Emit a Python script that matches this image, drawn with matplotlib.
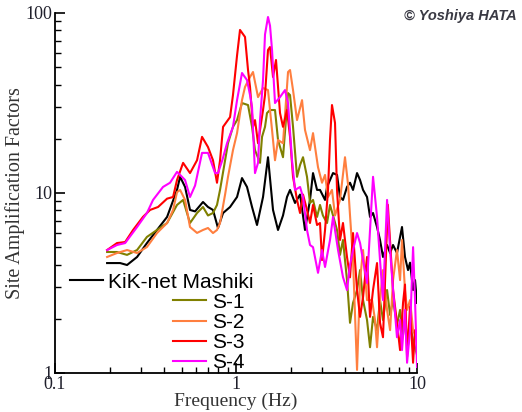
import matplotlib
matplotlib.use("Agg")
import matplotlib.pyplot as plt
from matplotlib.ticker import LogLocator, FixedLocator, FixedFormatter, NullFormatter

# KiK-net Mashiki
freq_kik = [0.194, 0.229, 0.25, 0.284, 0.322, 0.366, 0.416, 0.472, 0.491, 0.523,
            0.557, 0.594, 0.657, 0.70, 0.746, 0.795, 0.848, 0.927, 1.013, 1.079,
            1.15, 1.226, 1.306, 1.41, 1.502, 1.601, 1.706, 1.818, 1.913, 1.988,
            2.118, 2.258, 2.405, 2.563, 2.663, 2.803, 2.911, 3.103, 3.183, 3.305,
            3.435, 3.614, 3.754, 3.899, 4.103, 4.264, 4.43, 4.662, 4.845, 5.032,
            5.294, 5.5, 5.714, 6.012, 6.245, 6.486, 6.83, 7.10, 7.37, 7.75,
            8.06, 8.26, 8.58, 8.92, 9.15, 9.51, 9.75, 10.0]
amp_kik = [4.08, 4.08, 3.98, 4.41, 5.27, 6.23, 7.36, 10.4, 12.3, 10.8,
           8.05, 7.9, 8.91, 8.36, 8.05, 6.39, 7.74, 8.36, 9.5, 12.1,
           10.8, 8.36, 6.64, 9.5, 15.8, 8.05, 6.23, 7.5, 9.5, 10.4,
           8.8, 9.8, 6.23, 9.15, 12.9, 10.4, 10.4, 9.15, 10.8, 11.8,
           12.9, 12.6, 9.5, 9.15, 10.8, 11.4, 10.4, 12.9, 11.8, 10.4,
           9.5, 7.36, 7.74, 6.47, 5.48, 4.41, 5.14, 4.64, 5.14, 4.64,
           5.70, 6.47, 4.41, 3.73, 4.1, 2.89, 3.28, 2.45]

# S-1
freq_s1 = [0.194, 0.22, 0.25, 0.284, 0.322, 0.366, 0.416, 0.472, 0.51, 0.557,
           0.609, 0.657, 0.70, 0.746, 0.785, 0.816, 0.903, 0.962, 1.013, 1.079,
           1.165, 1.226, 1.273, 1.357, 1.392, 1.446, 1.483, 1.541, 1.642, 1.706,
           1.818, 1.938, 1.988, 2.065, 2.173, 2.258, 2.345, 2.467, 2.563, 2.663,
           2.803, 2.911, 3.02, 3.183, 3.305, 3.435, 3.614, 3.754, 3.899, 4.103,
           4.264, 4.43, 4.662, 4.845, 5.032, 5.294, 5.5, 5.714, 6.012, 6.245,
           6.486, 6.83, 7.10, 7.37, 7.75, 8.06, 8.37, 8.58, 8.92, 9.15,
           9.51, 10.0]
amp_s1 = [4.70, 4.70, 4.53, 4.82, 5.70, 6.23, 6.81, 8.58, 9.15, 6.81,
          7.74, 8.36, 7.5, 7.74, 8.58, 10.4, 18.9, 23.3, 25.4, 31.6,
          30.8, 23.3, 17.3, 14.7, 20.5, 23.3, 27.8, 28.9, 28.9, 19.7,
          15.8, 35.9, 35.0, 23.3, 12.3, 14.3, 15.8, 12.3, 8.8, 9.15,
          7.36, 8.58, 7.5, 6.81, 8.58, 7.5, 6.23, 4.53, 5.48, 3.28,
          1.90, 2.45, 2.89, 3.73, 2.54, 1.97, 1.39, 2.05, 1.73, 2.54,
          1.97, 2.89, 2.1, 2.54, 1.85, 2.24, 1.63, 1.97, 1.43, 1.85,
          1.52, 1.26]

# S-2
freq_s2 = [0.194, 0.22, 0.25, 0.284, 0.322, 0.366, 0.416, 0.449, 0.472, 0.491,
           0.523, 0.557, 0.609, 0.657, 0.70, 0.746, 0.785, 0.816, 0.87, 0.903,
           0.962, 1.013, 1.079, 1.121, 1.195, 1.241, 1.323, 1.41, 1.502, 1.581,
           1.642, 1.706, 1.818, 1.938, 1.988, 2.065, 2.173, 2.316, 2.405, 2.563,
           2.663, 2.838, 2.986, 3.103, 3.223, 3.39, 3.523, 3.754, 4.0, 4.16,
           4.264, 4.43, 4.662, 4.845, 5.032, 5.294, 5.642, 5.861, 6.012, 6.245,
           6.486, 6.83, 7.10, 7.37, 7.75, 8.06, 8.26, 8.58, 8.81, 9.15,
           9.51, 10.0]
amp_s2 = [4.41, 4.64, 4.82, 4.64, 5.01, 5.99, 6.81, 8.05, 10.1, 10.4,
          9.15, 6.47, 6.0, 6.23, 6.39, 5.99, 6.23, 6.81, 9.8, 12.3,
          17.3, 21.5, 32.8, 38.8, 44.1, 47.0, 34.1, 38.3, 37.3, 22.4,
          15.2, 19.7, 18.9, 47.0, 48.2, 37.3, 25.4, 32.8, 22.4, 17.3,
          21.5, 13.9, 11.4, 12.6, 9.5, 10.4, 7.5, 9.15, 15.8, 11.1,
          7.5, 4.24, 1.04, 3.28, 4.82, 2.54, 2.54, 1.97, 1.39, 2.54,
          3.73, 2.24, 1.73, 3.28, 4.82, 3.28, 5.48, 2.89, 2.24, 2.54,
          1.73, 1.52]

# S-3
freq_s3 = [0.194, 0.22, 0.244, 0.27, 0.306, 0.335, 0.371, 0.416, 0.449, 0.472,
           0.51, 0.557, 0.609, 0.649, 0.70, 0.746, 0.785, 0.816, 0.848, 0.927,
           0.962, 1.013, 1.052, 1.121, 1.165, 1.195, 1.241, 1.273, 1.323, 1.41,
           1.446, 1.502, 1.541, 1.601, 1.663, 1.75, 1.818, 1.913, 1.988, 2.065,
           2.173, 2.258, 2.345, 2.467, 2.563, 2.663, 2.803, 2.911, 2.986, 3.103,
           3.223, 3.305, 3.39, 3.523, 3.614, 3.754, 3.899, 4.103, 4.264, 4.43,
           4.662, 4.845, 5.032, 5.294, 5.5, 5.714, 6.012, 6.245, 6.486, 6.9,
           7.37, 7.75, 8.06, 8.37, 8.58, 8.81, 9.15, 9.51, 9.75, 10.0]
amp_s3 = [4.82, 5.27, 5.34, 6.23, 7.36, 8.05, 8.36, 9.3, 9.5, 11.8,
          14.7, 12.9, 15.2, 20.5, 18.0, 15.2, 11.4, 15.2, 23.3, 26.4,
          35.0, 58.0, 80.5, 73.6, 48.2, 38.8, 23.3, 25.4, 18.9, 28.9,
          35.0, 62.3, 64.7, 44.1, 54.8, 27.8, 23.3, 28.9, 20.5, 12.3,
          9.15, 7.74, 9.8, 8.05, 6.81, 8.58, 6.64, 6.81, 4.24, 6.23,
          10.4, 19.7, 30.8, 24.5, 10.4, 5.48, 6.81, 4.41, 3.4, 5.99,
          2.89, 2.05, 2.64, 4.41, 2.05, 2.89, 4.08, 1.90, 1.58, 8.6,
          2.89, 1.90, 1.34, 2.45, 3.1, 1.23, 2.33, 1.14, 1.73, 1.58]

# S-4
freq_s4 = [0.194, 0.22, 0.244, 0.284, 0.322, 0.348, 0.395, 0.432, 0.472, 0.491,
           0.523, 0.557, 0.594, 0.649, 0.70, 0.766, 0.795, 0.84, 0.892, 0.962,
           1.013, 1.079, 1.15, 1.195, 1.226, 1.273, 1.323, 1.357, 1.41, 1.446,
           1.502, 1.541, 1.581, 1.642, 1.75, 1.865, 1.938, 2.039, 2.118, 2.258,
           2.345, 2.467, 2.563, 2.663, 2.838, 2.986, 3.103, 3.305, 3.435, 3.661,
           3.899, 4.103, 4.264, 4.43, 4.662, 4.845, 5.032, 5.294, 5.5, 5.714,
           6.012, 6.245, 6.486, 6.83, 7.10, 7.28, 7.75, 8.06, 8.26, 8.58,
           8.81, 9.15, 9.51, 9.75, 10.0]
amp_s4 = [4.82, 5.14, 5.27, 6.47, 7.74, 9.15, 10.8, 11.4, 13.1, 12.6,
          11.8, 9.5, 11.0, 16.7, 16.7, 12.9, 12.9, 15.2, 18.9, 23.3,
          32.8, 46.4, 42.4, 35.0, 30.0, 12.9, 14.7, 25.4, 42.4, 76.0,
          95.0, 85.0, 62.3, 31.6, 34.1, 37.3, 31.6, 15.2, 10.4, 10.8,
          9.5, 6.23, 5.14, 5.0, 3.6, 4.82, 3.88, 5.48, 7.36, 4.82,
          3.41, 2.89, 3.98, 4.82, 5.99, 5.27, 4.24, 3.16, 6.23, 12.3,
          7.36, 4.24, 2.54, 9.15, 4.82, 3.41, 1.58, 1.97, 1.34, 2.24,
          1.14, 1.73, 5.0, 2.54, 1.08]

serif = ["Liberation Serif", "DejaVu Serif"]
sans = ["Liberation Sans", "DejaVu Sans"]
ink = "#20202c"

fig = plt.figure(figsize=(5.22, 4.12), dpi=100)
ax = fig.add_axes([0.1054, 0.0947, 0.6935, 0.8738])

l_kik, = ax.plot(freq_kik, amp_kik, color="black", lw=1.5)
l1, = ax.plot(freq_s1, amp_s1, color="#808000", lw=1.5)
l2, = ax.plot(freq_s2, amp_s2, color="#ff7f3f", lw=1.5)
l3, = ax.plot(freq_s3, amp_s3, color="#ff0000", lw=1.5)
l4, = ax.plot(freq_s4, amp_s4, color="#ff00ff", lw=1.5)

ax.set_xscale("log")
ax.set_yscale("log")
ax.set_xlim(0.1, 10)
ax.set_ylim(1, 100)

ax.spines["top"].set_visible(False)
ax.spines["right"].set_visible(False)
for s in ["left", "bottom"]:
    ax.spines[s].set_linewidth(1.3)

ax.xaxis.set_major_locator(FixedLocator([0.1, 1, 10]))
ax.xaxis.set_major_formatter(FixedFormatter(["0.1", "1", "10"]))
ax.yaxis.set_major_locator(FixedLocator([1, 10, 100]))
ax.yaxis.set_major_formatter(FixedFormatter(["1", "10", "100"]))
ax.xaxis.set_minor_locator(LogLocator(base=10, subs=range(2, 10)))
ax.yaxis.set_minor_locator(LogLocator(base=10, subs=range(2, 10)))
ax.xaxis.set_minor_formatter(NullFormatter())
ax.yaxis.set_minor_formatter(NullFormatter())
ax.tick_params(which="major", direction="in", length=7, width=1.2, pad=2,
               labelsize=13, labelcolor=ink)
ax.tick_params(which="minor", direction="in", length=4, width=1.0)
for lab in ax.get_xticklabels() + ax.get_yticklabels():
    lab.set_family(serif)

ax.set_xlabel("Frequency (Hz)", family=serif, fontsize=14, color="#333333",
              labelpad=0)
ax.set_ylabel("Site Amplification Factors", family=serif, fontsize=14.5,
              color="#333333", labelpad=0)

leg1 = ax.legend([l_kik], ["KiK-net Mashiki"], loc="upper left",
                 bbox_to_anchor=(0.041, 0.279), frameon=False, borderpad=0,
                 borderaxespad=0, handlelength=1.6, handletextpad=0.25,
                 prop={"family": sans, "size": 15})
ax.add_artist(leg1)
ax.legend([l1, l2, l3, l4], ["S-1", "S-2", "S-3", "S-4"], loc="upper left",
          bbox_to_anchor=(0.326, 0.223), frameon=False, borderpad=0,
          borderaxespad=0, handlelength=1.6, handletextpad=0.25,
          labelspacing=0.06, prop={"family": sans, "size": 15})

fig.text(0.99, 0.962, "\u00a9 Yoshiya HATA", ha="right", va="center",
         fontsize=10.5, style="italic", weight="bold", family=sans,
         color="#3a3a44")

fig.savefig("out.png", dpi=100)
